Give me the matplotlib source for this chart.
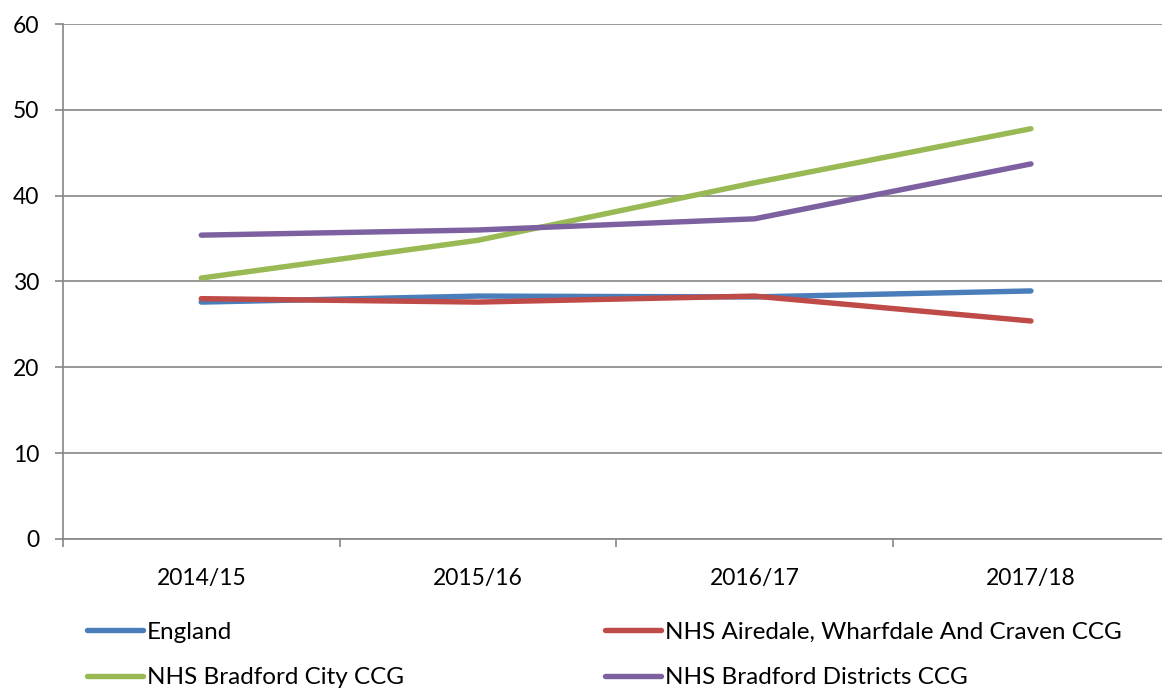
import matplotlib
matplotlib.use("Agg")
import matplotlib.pyplot as plt
import numpy as np

years = ["2014/15", "2015/16", "2016/17", "2017/18"]
england = [27.6, 28.3, 28.2, 28.9]
airedale = [28.0, 27.6, 28.3, 25.4]
bradford_city = [30.4, 34.8, 41.5, 47.8]
bradford_districts = [35.4, 36.0, 37.3, 43.7]

series = [
    ("England", england, "#4A7EBB"),
    ("NHS Airedale, Wharfdale And Craven CCG", airedale, "#BE4B48"),
    ("NHS Bradford City CCG", bradford_city, "#98B954"),
    ("NHS Bradford Districts CCG", bradford_districts, "#7D60A0"),
]

plt.rcParams['font.family'] = ['Lato', 'DejaVu Sans']
grey = "#868686"

fig = plt.figure(figsize=(11.62, 6.88), dpi=100)
ax = fig.add_axes([0.0542, 0.2166, 0.952, 0.7485])

x = np.arange(len(years))
for name, vals, col in series:
    ax.plot(x, vals, color=col, lw=3.9, solid_capstyle='round', label=name)

ax.set_xlim(-0.5, len(years) - 0.5)
ax.set_ylim(0, 60)
ax.set_yticks(range(0, 61, 10))
ax.grid(axis='y', color=grey, lw=1.2)
ax.set_axisbelow(True)

ax.set_xticks(x)
ax.set_xticklabels(years)
ax.set_xticks(np.arange(-0.5, len(years) - 0.4, 1), minor=True)
ax.tick_params(axis='x', which='major', length=0, pad=21, labelsize=16.5)
ax.tick_params(axis='x', which='minor', length=6, color=grey, width=1.2)
ax.tick_params(axis='y', length=6, color=grey, width=1.2, labelsize=16.5, pad=11)

for s in ['top', 'right']:
    ax.spines[s].set_visible(False)
for s in ['left', 'bottom']:
    ax.spines[s].set_color(grey)
    ax.spines[s].set_linewidth(1.2)

# legend fills row by row in the reference
handles, labels = ax.get_legend_handles_labels()
order = [0, 2, 1, 3]
fig.legend([handles[i] for i in order], [labels[i] for i in order], ncol=2,
           loc='upper left', bbox_to_anchor=(0.075, 0.096),
           frameon=False, fontsize=17.5, handlelength=2.3, handletextpad=0.17,
           columnspacing=8.25, labelspacing=1.0, borderaxespad=0, borderpad=0)

fig.savefig("out.png", dpi=100)
